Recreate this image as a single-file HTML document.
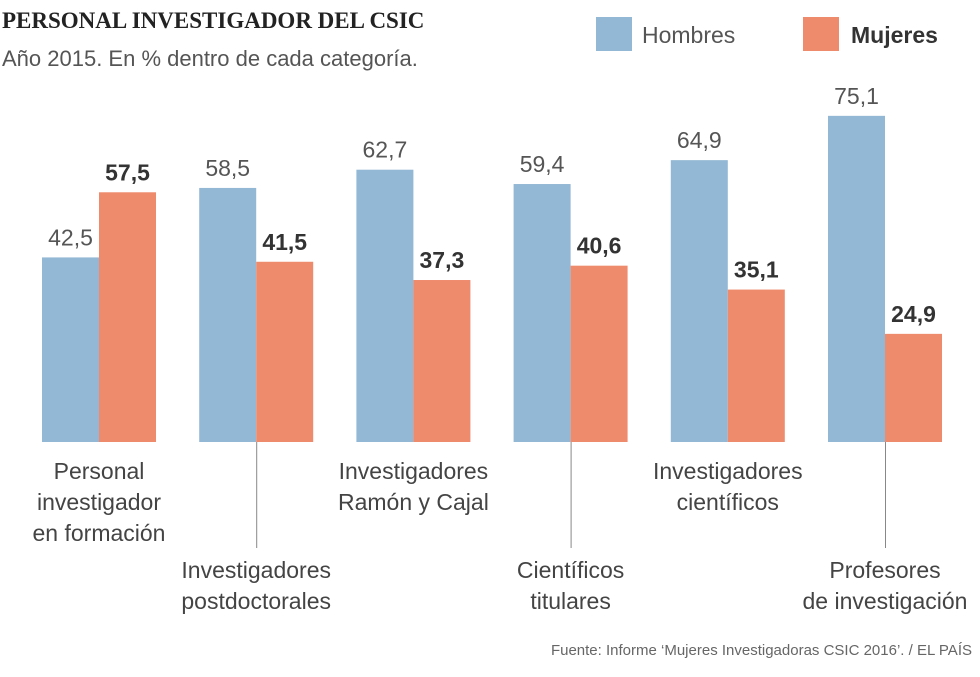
<!DOCTYPE html>
<html><head><meta charset="utf-8"><style>
body{margin:0;background:#fff;width:980px;height:672px;overflow:hidden;font-family:"Liberation Sans",sans-serif}
</style></head><body>
<svg id="chart" width="980" height="672" xmlns="http://www.w3.org/2000/svg">
<text x="2" y="28" font-family="Liberation Serif" font-weight="bold" font-size="23" fill="#222">PERSONAL INVESTIGADOR DEL CSIC</text>
<text x="2" y="66" font-size="22" fill="#555">Año 2015. En % dentro de cada categoría.</text>
<rect x="596" y="17" width="36" height="34" fill="#93b8d5"/>
<text x="642" y="43" font-size="23" fill="#555">Hombres</text>
<rect x="803" y="17" width="36" height="34" fill="#ef8b6d"/>
<text x="851" y="43" font-size="23" font-weight="bold" fill="#333">Mujeres</text>
<g id="bars"></g>
<text x="972" y="655" text-anchor="end" font-size="15" fill="#666">Fuente: Informe ‘Mujeres Investigadoras CSIC 2016’.  / EL PAÍS</text>
</svg>
<script>
const categories=[["Personal","investigador","en formación"],["Investigadores","postdoctorales"],["Investigadores","Ramón y Cajal"],["Científicos","titulares"],["Investigadores","científicos"],["Profesores","de investigación"]];
const hombres=[42.5,58.5,62.7,59.4,64.9,75.1];
const mujeres=[57.5,41.5,37.3,40.6,35.1,24.9];
const NS="http://www.w3.org/2000/svg";
const g=document.getElementById('bars');
const base=442,scale=4.343,x0=42,step=157.2,bw=57;
const y=v=>base-v*scale;
function mk(t,a,txt){const e=document.createElementNS(NS,t);for(const k in a)e.setAttribute(k,a[k]);if(txt!==undefined)e.textContent=txt;g.appendChild(e);return e;}
categories.forEach((c,i)=>{
 const gx=x0+i*step;
 let e=mk('rect',{x:gx,y:y(hombres[i]),width:bw,height:hombres[i]*scale,fill:'#93b8d5'});
 
 
 e=mk('rect',{x:gx+bw,y:y(mujeres[i]),width:bw,height:mujeres[i]*scale,fill:'#ef8b6d'});
 
 
 e=mk('text',{x:gx+bw/2,y:y(hombres[i])-12,'text-anchor':'middle','font-size':23,fill:'#555'},hombres[i].toFixed(1).replace('.',','));
 
 
 e=mk('text',{x:gx+bw*1.5,y:y(mujeres[i])-12,'text-anchor':'middle','font-size':23,'font-weight':'bold',fill:'#333'},mujeres[i].toFixed(1).replace('.',','));
 
 
 const low=i%2===1;
 const cx=gx+bw;
 if(low){e=mk('line',{x1:cx+0.5,y1:base,x2:cx+0.5,y2:548,stroke:'#888','stroke-width':1});
  
  }
 const ty=low?578:479;
 c.forEach((ln,j)=>{
  e=mk('text',{x:cx,y:ty+j*31,'text-anchor':'middle','font-size':23,fill:'#444'},ln);
  
  
 });
});
</script>
</body></html>
